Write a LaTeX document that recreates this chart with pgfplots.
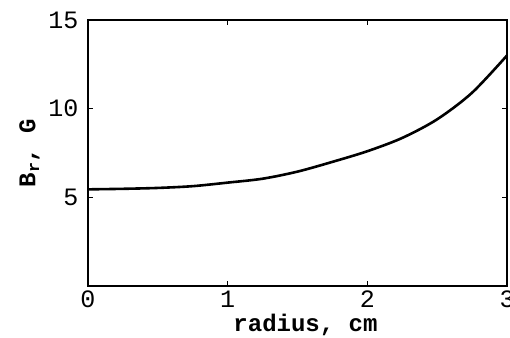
\documentclass[border=0pt]{standalone}
\usepackage{pgfplots}
\pgfplotsset{compat=1.18}
\usepackage{fontspec}
\setmainfont{Liberation Mono}
\begin{document}
\begin{tikzpicture}
\begin{axis}[
  scale only axis,
  width=419pt, height=266pt,
  xmin=0, xmax=3, ymin=0, ymax=15,
  xtick={0,1,2,3}, ytick={5,10,15},
  tick pos=both,
  major tick length=5pt,
  tick style={line width=1pt, black},
  axis line style={line width=1.2pt},
  /pgf/number format/assume math mode=true,
  ticklabel style={font=\fontsize{25}{27}\selectfont},
  yticklabel style={xshift=-6pt},
  xticklabel style={yshift=-1pt},
  xlabel={\textbf{radius, cm}},
  ylabel={\textbf{B\textsubscript{r}, G}},
  label style={font=\fontsize{24}{26}\selectfont},
  xlabel style={yshift=0pt, xshift=8pt},
  ylabel style={yshift=2pt},
]
\addplot[line width=2.6pt, smooth, black] coordinates {
(0,5.45) (0.25,5.48) (0.5,5.53) (0.75,5.63) (1.0,5.83) (1.25,6.05)
(1.5,6.45) (1.75,7.0) (2.0,7.6) (2.25,8.35) (2.5,9.4) (2.75,10.9) (3.0,13.0)
};
\coordinate (sw) at (rel axis cs:0,0);
\coordinate (ne) at (rel axis cs:1,1);
\end{axis}
\pgfresetboundingbox
\useasboundingbox ([xshift=-88pt,yshift=-51pt]sw) rectangle ([xshift=3pt,yshift=20pt]ne);
\end{tikzpicture}
\end{document}
